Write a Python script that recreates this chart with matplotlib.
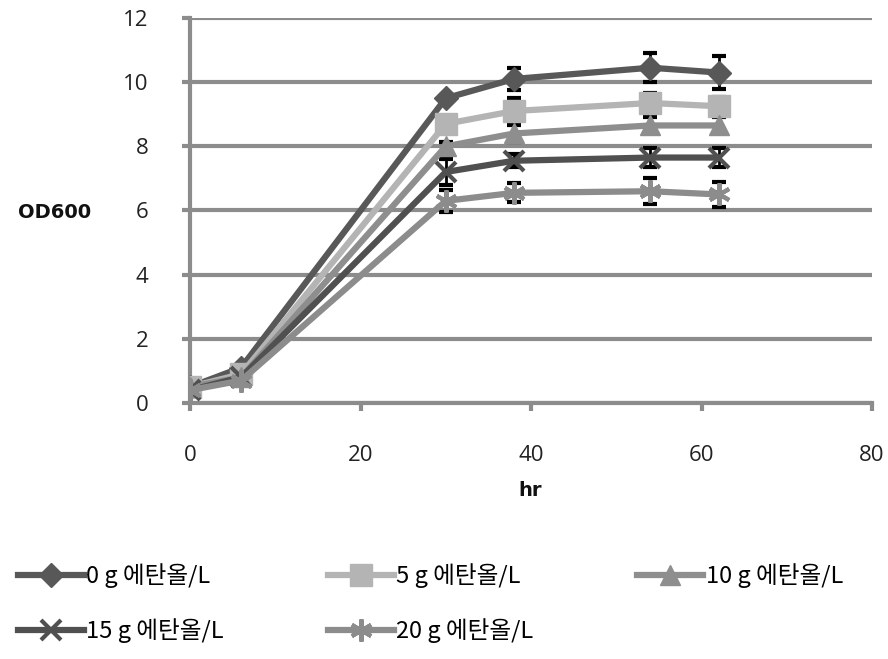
import numpy as np
import matplotlib
matplotlib.use("Agg")
import matplotlib.pyplot as plt

# -----------------------------
# data
# -----------------------------
hours = [0, 6, 30, 38, 54, 62]
labels = ["0 g 에탄올/L", "5 g 에탄올/L", "10 g 에탄올/L", "15 g 에탄올/L", "20 g 에탄올/L"]
od_0g = [0.5, 1.1, 9.5, 10.1, 10.45, 10.3]
od_5g = [0.5, 0.9, 8.7, 9.1, 9.35, 9.25]
od_10g = [0.5, 0.8, 8.0, 8.4, 8.65, 8.65]
od_15g = [0.4, 0.8, 7.2, 7.55, 7.65, 7.65]
od_20g = [0.4, 0.7, 6.3, 6.55, 6.6, 6.5]
err_0g = [0.0, 0.0, 0.1, 0.35, 0.45, 0.5]
err_5g = [0.0, 0.0, 0.15, 0.4, 0.3, 0.3]
err_10g = [0.0, 0.0, 0.15, 0.25, 0.25, 0.25]
err_15g = [0.0, 0.0, 0.4, 0.2, 0.3, 0.3]
err_20g = [0.0, 0.0, 0.35, 0.3, 0.4, 0.4]

series = [od_0g, od_5g, od_10g, od_15g, od_20g]
errors = [err_0g, err_5g, err_10g, err_15g, err_20g]
colors = ["#585858", "#b4b4b4", "#8e8e8e", "#505050", "#8c8c8c"]
markers = ["D", "s", "^", "x", (6, 2, 0)]
msizes = [12, 16, 15, 14, 16]

grid_col = "#8c8c8c"

fig = plt.figure(figsize=(8.88, 6.59), dpi=100)
ax = fig.add_axes([0.214, 0.3885, 0.768, 0.5842])

handles = []
for ys, es, c, m, ms, lab in zip(series, errors, colors, markers, msizes, labels):
    h, = ax.plot(hours, ys, color=c, lw=4.5, marker=m, ms=ms, mfc=c, mec=c,
                 mew=3 if m in ("x", (6, 2, 0)) else 1, label=lab, zorder=3,
                 solid_joinstyle="round")
    ax.errorbar(hours, ys, yerr=es, fmt="none", ecolor="black", elinewidth=2,
                capsize=5, capthick=3, zorder=2.5)
    handles.append(h)

ax.set_xlim(0, 80)
ax.set_ylim(0, 12)
ax.set_xticks([0, 20, 40, 60, 80])
ax.set_yticks(np.arange(0, 13, 2))
ax.yaxis.grid(True, color=grid_col, lw=3)
ax.set_axisbelow(True)
for s in ["top", "right"]:
    ax.spines[s].set_visible(False)
for s in ["left", "bottom"]:
    ax.spines[s].set_color(grid_col)
    ax.spines[s].set_linewidth(3)
ax.tick_params(axis="both", length=6, width=3, color=grid_col,
               labelsize=16, labelcolor="#222222")
ax.tick_params(axis="y", pad=24)
ax.tick_params(axis="x", pad=24)
for t in ax.get_xticklabels() + ax.get_yticklabels():
    t.set_family("Open Sans")

fig.text(55 / 888, 1 - 213 / 659, "OD600", fontsize=14, fontweight="bold",
         family="DejaVu Sans", ha="center", va="center", color="#111111")
fig.text(530 / 888, 1 - 490 / 659, "hr", fontsize=14, fontweight="bold",
         family="DejaVu Sans", ha="center", va="center", color="#111111")

# reorder so the legend reads row by row
order = [0, 3, 1, 4, 2]
fig.legend([handles[i] for i in order], [labels[i] for i in order],
           loc="upper left", bbox_to_anchor=(-0.004, 0.178), ncol=3,
           frameon=False, handlelength=2.8, handletextpad=0.1,
           columnspacing=4.4, labelspacing=1.3,
           prop={"family": ["Noto Sans CJK KR", "DejaVu Sans"], "size": 17})

fig.savefig("out.png", dpi=100)
